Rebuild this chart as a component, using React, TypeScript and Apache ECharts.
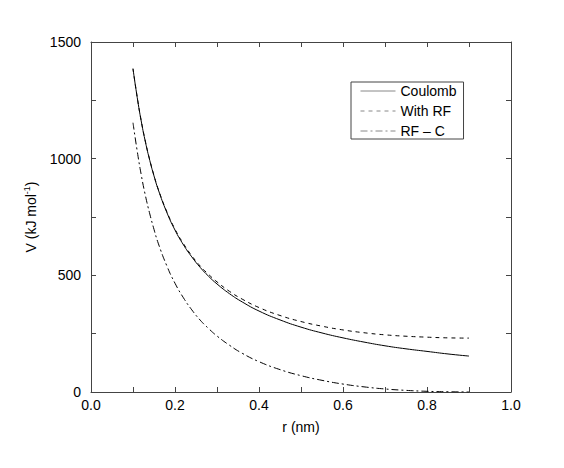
import React, { useEffect, useRef } from "react";
import * as echarts from "echarts";

const rValues = [0.10, 0.11, 0.12, 0.13, 0.14, 0.15, 0.16, 0.18, 0.20, 0.22, 0.24, 0.26, 0.28, 0.30, 0.33, 0.36, 0.40, 0.45, 0.50, 0.55, 0.60, 0.65, 0.70, 0.75, 0.80, 0.85, 0.90];
const coulomb = [1385, 1263, 1157, 1068, 992, 926, 868, 772, 694, 631, 579, 534, 496, 463, 421, 386, 347, 309, 278, 253, 232, 214, 198, 185, 174, 163, 154];
const withRF = [1386, 1264, 1158, 1070, 994, 928, 870, 775, 698, 636, 584, 540, 504, 472, 431, 398, 362, 328, 302, 282, 266, 254, 245, 239, 235, 232, 231];
const rfMinusC = [1154, 1033, 927, 838, 763, 697, 638, 543, 466, 404, 352, 308, 272, 240, 200, 166, 130, 96, 70, 50, 34, 22, 13, 7, 3, 1, 0];
const seriesNames = ["Coulomb", "With RF", "RF – C"];
const xTicks = [0, 1, 0.2];
const yTicks = [0, 1500, 500];

const FONT = "Liberation Sans, Arial, Helvetica, sans-serif";
const AX = "#444";

function tickCommon() {
  return {
    axisLine: { show: true, onZero: false, lineStyle: { color: AX, width: 1 } },
    axisTick: { show: true, inside: true, length: 5, lineStyle: { color: AX } },
    minorTick: { show: true, splitNumber: 2, length: 5, lineStyle: { color: AX } },
    splitLine: { show: false },
    minorSplitLine: { show: false },
  };
}

export default function App() {
  const ref = useRef<HTMLDivElement>(null);
  useEffect(() => {
    if (!ref.current) return;
    const chart = echarts.init(ref.current, null, { renderer: "svg" });
    const pair = (ys: number[]) => rValues.map((r, i) => [r, ys[i]]);
    chart.setOption({
      animation: false,
      textStyle: { fontFamily: FONT },
      grid: { left: 91, right: 53, top: 42, bottom: 76, containLabel: false },
      legend: {
        orient: "vertical",
        left: 351,
        top: 82,
        itemWidth: 35,
        itemHeight: 14,
        itemGap: 6,
        itemTextGap: 9,
        padding: [2, 7, 1, 9],
        borderColor: AX,
        borderWidth: 1,
        borderRadius: 0,
        backgroundColor: "#fff",
        itemStyle: { opacity: 0 },
        lineStyle: { width: 1, color: "#888" },
        textStyle: { fontSize: 14, color: "#000", fontFamily: FONT },
        data: seriesNames,
      },
      xAxis: [
        {
          type: "value",
          min: xTicks[0],
          max: xTicks[1],
          interval: xTicks[2],
          position: "bottom",
          ...tickCommon(),
          axisLabel: { fontSize: 14, color: "#000", margin: 6, formatter: (v: number) => v.toFixed(1) },
          name: "r (nm)",
          nameLocation: "middle",
          nameGap: 28,
          nameTextStyle: { fontSize: 14, color: "#000" },
        },
        {
          type: "value",
          min: xTicks[0],
          max: xTicks[1],
          interval: xTicks[2],
          position: "top",
          ...tickCommon(),
          axisLabel: { show: false },
        },
      ],
      yAxis: [
        {
          type: "value",
          min: yTicks[0],
          max: yTicks[1],
          interval: yTicks[2],
          position: "left",
          ...tickCommon(),
          axisLabel: { fontSize: 14, color: "#000", margin: 10, formatter: (v: number) => String(v) },
          name: "V (kJ mol{sup|-1})",
          nameLocation: "middle",
          nameGap: 52,
          nameTextStyle: {
            fontSize: 14,
            color: "#000",
            rich: { sup: { fontSize: 9, verticalAlign: "top", padding: [0, 0, 8, 0], color: "#000" } },
          },
        },
        {
          type: "value",
          min: yTicks[0],
          max: yTicks[1],
          interval: yTicks[2],
          position: "right",
          ...tickCommon(),
          axisLabel: { show: false },
        },
      ],
      series: [
        {
          name: seriesNames[0],
          type: "line",
          symbol: "none",
          smooth: true,
          data: pair(coulomb),
          lineStyle: { color: "#000", width: 1, type: "solid" },
          itemStyle: { color: "#000" },
        },
        {
          name: seriesNames[1],
          type: "line",
          symbol: "none",
          smooth: true,
          data: pair(withRF),
          lineStyle: { color: "#000", width: 1, type: [4, 4] },
          itemStyle: { color: "#000" },
        },
        {
          name: seriesNames[2],
          type: "line",
          symbol: "none",
          smooth: true,
          data: pair(rfMinusC),
          lineStyle: { color: "#000", width: 1, type: [7, 3, 2, 3] },
          itemStyle: { color: "#000" },
        },
      ],
    });
    return () => chart.dispose();
  }, []);
  return (
    <div
      ref={ref}
      style={{ position: "fixed", left: 0, top: 0, width: 564, height: 468, background: "#fff" }}
    />
  );
}
